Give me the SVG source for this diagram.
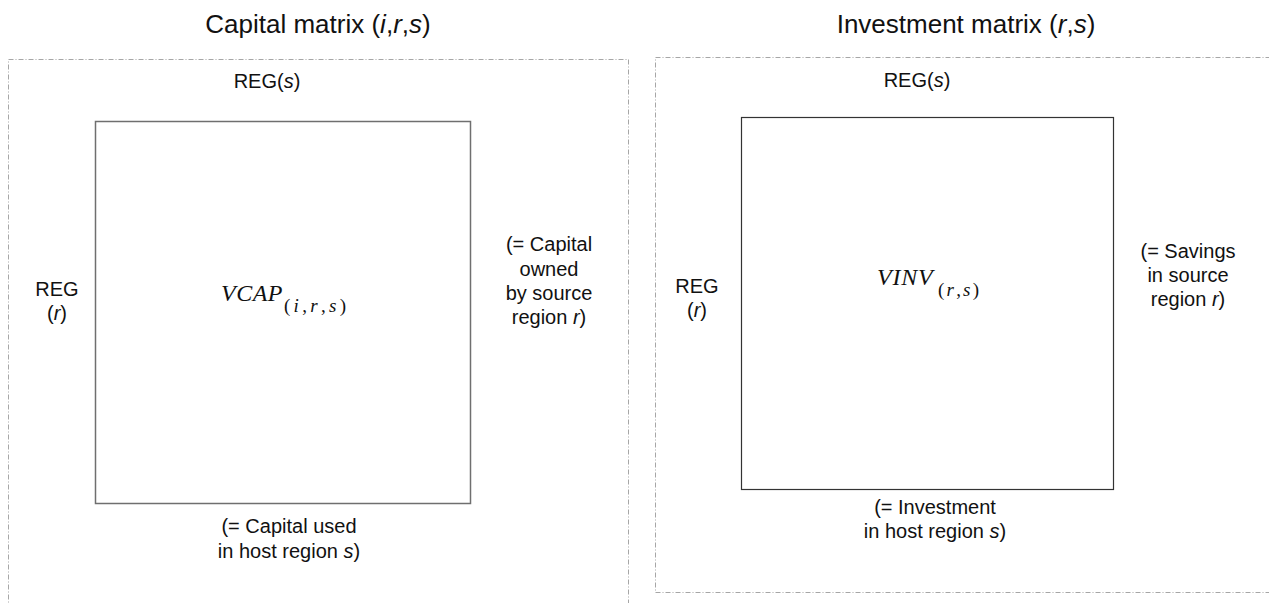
<svg xmlns="http://www.w3.org/2000/svg" width="1269" height="603" viewBox="0 0 1269 603">
<style>
.frame{fill:none;stroke:#a6a6a6;stroke-width:1;stroke-dasharray:5 2 1 2}
.title{font-family:"Liberation Sans",Arial,sans-serif;font-size:26px;fill:#111;text-anchor:middle}
.lbl{font-family:"Liberation Sans",Arial,sans-serif;font-size:20px;fill:#111;text-anchor:middle}
.math{font-family:"Liberation Serif","Times New Roman",serif;font-style:italic;fill:#111}
.up{font-style:normal}
.it{font-style:italic}
</style>
<rect width="1269" height="603" fill="#fff"/>
<g id="capital-panel">
  <text class="title" x="318" y="33">Capital matrix (<tspan class="it">i</tspan>,<tspan class="it">r</tspan>,<tspan class="it">s</tspan>)</text>
  <rect class="frame" x="8.5" y="59.5" width="620" height="560"/>
  <text class="lbl" x="267" y="88">REG(<tspan class="it">s</tspan>)</text>
  <rect id="vcap-box" x="95.5" y="121.5" width="375" height="382" fill="none" stroke="#6f6f6f" stroke-width="1.5"/>
  <text class="math" x="221" y="301" font-size="24" letter-spacing="0.5">VCAP</text>
  <text class="math" x="284" y="312" font-size="19" textLength="62" lengthAdjust="spacing"><tspan class="up">(</tspan>i<tspan class="up">,</tspan>r<tspan class="up">,</tspan>s<tspan class="up">)</tspan></text>
  <text class="lbl" x="57" y="296">REG</text>
  <text class="lbl" x="57" y="320">(<tspan class="it">r</tspan>)</text>
  <text class="lbl" x="549" y="251">(= Capital</text>
  <text class="lbl" x="549" y="276">owned</text>
  <text class="lbl" x="549" y="300">by source</text>
  <text class="lbl" x="549" y="324">region <tspan class="it">r</tspan>)</text>
  <text class="lbl" x="289" y="533">(= Capital used</text>
  <text class="lbl" x="289" y="558">in host region <tspan class="it">s</tspan>)</text>
</g>
<g id="investment-panel">
  <text class="title" x="966" y="33">Investment matrix (<tspan class="it">r</tspan>,<tspan class="it">s</tspan>)</text>
  <rect class="frame" x="655.5" y="57.5" width="640" height="535"/>
  <text class="lbl" x="917" y="87">REG(<tspan class="it">s</tspan>)</text>
  <rect id="vinv-box" x="741.5" y="117.5" width="372" height="372" fill="none" stroke="#333" stroke-width="1.2"/>
  <text class="math" x="877" y="285" font-size="24" letter-spacing="0.8">VINV</text>
  <text class="math" x="938" y="296" font-size="19" textLength="41" lengthAdjust="spacing"><tspan class="up">(</tspan>r<tspan class="up">,</tspan>s<tspan class="up">)</tspan></text>
  <text class="lbl" x="697" y="293">REG</text>
  <text class="lbl" x="697" y="317">(<tspan class="it">r</tspan>)</text>
  <text class="lbl" x="1188" y="258">(= Savings</text>
  <text class="lbl" x="1188" y="282">in source</text>
  <text class="lbl" x="1188" y="306">region <tspan class="it">r</tspan>)</text>
  <text class="lbl" x="935" y="514">(= Investment</text>
  <text class="lbl" x="935" y="538">in host region <tspan class="it">s</tspan>)</text>
</g>
</svg>
